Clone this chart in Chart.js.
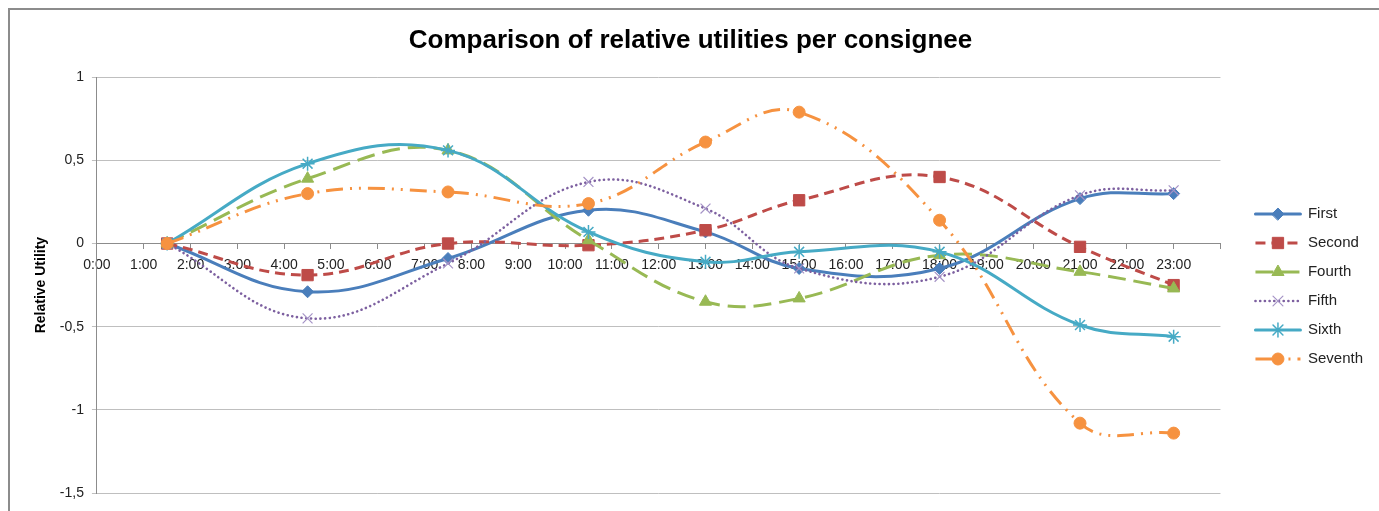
<!DOCTYPE html>
<html>
<head>
<meta charset="utf-8">
<script src="https://cdn.jsdelivr.net/npm/chart.js@4/dist/chart.umd.min.js"></script>
<style>
html, body { margin: 0; padding: 0; background: #fff; overflow: hidden; }
#wrap { position: relative; width: 1379px; height: 511px; }
#frame { position: absolute; left: 8px; top: 8px; width: 1400px; height: 600px; border: 2px solid #8c8c8c; box-sizing: border-box; }
canvas { position: absolute; left: 0; top: 0; }
</style>
</head>
<body>
<div id="wrap"><div id="frame"></div><canvas id="chart" width="1379" height="511"></canvas></div>
<script>
// data (x in hours)
const hours   = [1.5, 4.5, 7.5, 10.5, 13, 15, 18, 21, 23];
const first   = [0, -0.29, -0.09, 0.20, 0.07, -0.15, -0.15, 0.27, 0.30];
const second  = [0, -0.19, 0.00, -0.01, 0.08, 0.26, 0.40, -0.02, -0.25];
const fourth  = [0, 0.39, 0.56, 0.02, -0.35, -0.33, -0.07, -0.17, -0.27];
const fifth   = [0, -0.45, -0.12, 0.37, 0.21, -0.15, -0.20, 0.29, 0.32];
const sixth   = [0, 0.48, 0.56, 0.07, -0.11, -0.05, -0.05, -0.49, -0.56];
const seventh = [0, 0.30, 0.31, 0.24, 0.61, 0.79, 0.14, -1.08, -1.14];

const FONT = "'Liberation Sans', Arial, sans-serif";
const legendFont = 15;
const legendBox = 45;

function pts(vals) { return hours.map(function (h, i) { return { x: h, y: vals[i] }; }); }

function series(label, vals, color, mColor, dash, cap, width, style, radius, bw, order) {
    return {
        label: label,
        data: pts(vals),
        borderColor: color,
        backgroundColor: color,
        borderWidth: width,
        borderDash: dash,
        borderCapStyle: cap,
        pointStyle: style,
        pointRadius: radius,
        pointBackgroundColor: mColor,
        pointBorderColor: mColor,
        pointBorderWidth: bw,
        tension: 0.4,
        order: order
    };
}

// line + marker swatches in the legend, like the spreadsheet one
const legendLines = {
    id: 'legendLines',
    afterLayout(chart) {
        chart.legend.left += 21;
        chart.legend.right += 21;
        chart.legend.top += 35;
        chart.legend.bottom += 35;
    },
    afterDraw(chart) {
        const ctx = chart.ctx;
        const lg = chart.legend;
        lg.legendItems.forEach(function (item, i) {
            const box = lg.legendHitBoxes[i];
            const ds = chart.data.datasets[item.datasetIndex];
            const cy = box.top + box.height / 2;
            ctx.save();
            ctx.strokeStyle = ds.borderColor;
            ctx.lineWidth = ds.borderWidth;
            ctx.setLineDash(ds.borderDash);
            ctx.lineCap = ds.borderCapStyle;
            ctx.beginPath();
            ctx.moveTo(box.left, cy);
            ctx.lineTo(box.left + legendBox, cy);
            ctx.stroke();
            ctx.setLineDash([]);
            ctx.fillStyle = ds.pointBackgroundColor;
            ctx.strokeStyle = ds.pointBorderColor;
            ctx.lineWidth = ds.pointBorderWidth;
            Chart.helpers.drawPoint(ctx, { pointStyle: ds.pointStyle, radius: ds.pointRadius, borderWidth: ds.pointBorderWidth, rotation: 0 }, box.left + legendBox / 2, cy);
            ctx.restore();
        });
    }
};

const ctx = document.getElementById('chart').getContext('2d');
const myChart = new Chart(ctx, {
    type: 'line',
    data: {
        datasets: [
            series('First',   first,   '#4A7EBB', '#4A7EBB', [],          'round', 3,   'rectRot',  6, 1,   6),
            series('Second',  second,  '#BE4B48', '#BE4B48', [10, 6],     'butt',  3,   'rect',     8, 1,   5),
            series('Fourth',  fourth,  '#98B954', '#98B954', [18, 8],     'butt',  3,   'triangle', 7, 1,   4),
            series('Fifth',   fifth,   '#7D60A0', '#A593C6', [0.1, 4.6],  'round', 2.6, 'crossRot', 7, 1.2, 3),
            series('Sixth',   sixth,   '#46AAC5', '#46AAC5', [],          'round', 3,   'star',     7, 1.5, 2),
            series('Seventh', seventh, '#F69240', '#F69240', [17, 7, 2, 7, 2, 7], 'butt', 3, 'circle', 6, 1, 1)
        ]
    },
    options: {
        responsive: false,
        animation: false,
        devicePixelRatio: 1,
        layout: { padding: { left: 29, right: 27, top: 10, bottom: 18 } },
        plugins: {
            title: {
                display: true,
                text: 'Comparison of relative utilities per consignee',
                color: '#000',
                font: { family: FONT, size: 26, weight: 'bold' },
                padding: { top: 15, bottom: 21 }
            },
            legend: {
                position: 'right',
                labels: {
                    color: '#222',
                    font: { family: FONT, size: legendFont },
                    boxWidth: legendBox,
                    boxHeight: 0,
                    padding: 14,
                    sort: function (a, b) { return a.datasetIndex - b.datasetIndex; },
                    generateLabels: function (chart) {
                        return Chart.defaults.plugins.legend.labels.generateLabels(chart).map(function (l) {
                            l.fillStyle = 'rgba(0,0,0,0)';
                            l.strokeStyle = 'rgba(0,0,0,0)';
                            l.lineWidth = 0;
                            return l;
                        });
                    }
                }
            },
            tooltip: { enabled: false }
        },
        scales: {
            x: {
                type: 'linear',
                position: { y: 0 },
                min: 0,
                max: 24,
                grid: { drawOnChartArea: false, drawTicks: true, tickLength: 5, color: '#8c8c8c' },
                border: { color: '#8c8c8c', width: 1 },
                ticks: {
                    stepSize: 1,
                    autoSkip: false,
                    maxRotation: 0,
                    padding: 8,
                    color: '#222',
                    font: { family: FONT, size: 14 },
                    callback: function (v) { return v < 24 ? v + ':00' : ''; }
                }
            },
            y: {
                min: -1.5,
                max: 1,
                grid: { color: '#bfbfbf', tickLength: 5 },
                border: { color: '#8c8c8c', width: 1 },
                ticks: {
                    stepSize: 0.5,
                    padding: 8,
                    color: '#222',
                    font: { family: FONT, size: 14 },
                    callback: function (v) { return String(v).replace('.', ','); }
                },
                title: {
                    display: true,
                    text: 'Relative Utility',
                    color: '#000',
                    font: { family: FONT, size: 14, weight: 'bold' },
                    padding: { top: 4, bottom: 2 }
                }
            }
        }
    },
    plugins: [legendLines]
});
</script>
</body>
</html>
